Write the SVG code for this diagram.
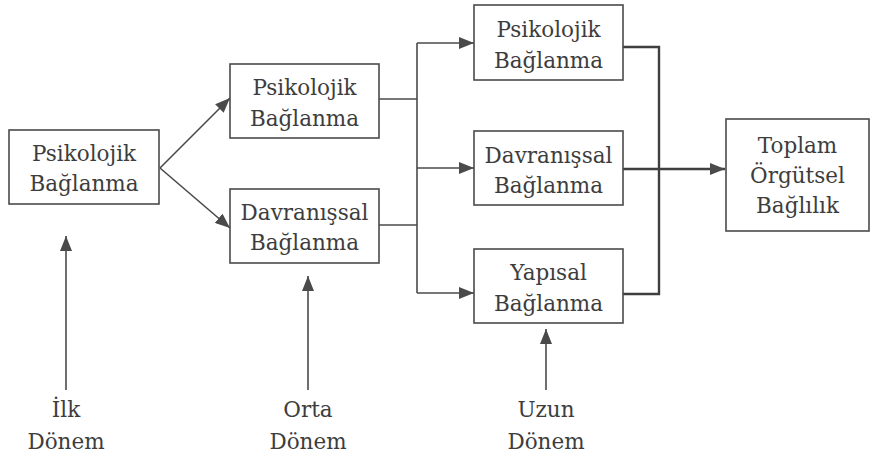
<svg xmlns="http://www.w3.org/2000/svg" width="873" height="459" viewBox="0 0 873 459">
<style>
.box{fill:#fff;stroke:#4a4a4a;stroke-width:1.6}
.t{font-size:21.5px;fill:#3d3d3d;text-anchor:middle}
.c{fill:none;stroke:#4a4a4a;stroke-width:1.6}
.c2{fill:none;stroke:#3f3f3f;stroke-width:2.4}
</style>
<defs>
<marker id="ah" markerUnits="userSpaceOnUse" markerWidth="16" markerHeight="12" refX="15" refY="6" orient="auto">
<path d="M0,0 L15,6 L0,12 Z" fill="#4a4a4a"/>
</marker>
</defs>
<rect width="873" height="459" fill="#fff"/>
<g id="connectors">
<line class="c" x1="160" y1="168" x2="230" y2="98" marker-end="url(#ah)"/>
<line class="c" x1="160" y1="168" x2="230" y2="228" marker-end="url(#ah)"/>
<polyline class="c" points="379,99 417,99"/>
<polyline class="c" points="379,225 417,225"/>
<polyline class="c" points="417,43 417,293"/>
<line class="c" x1="417" y1="43" x2="474" y2="43" marker-end="url(#ah)"/>
<line class="c" x1="417" y1="168" x2="474" y2="168" marker-end="url(#ah)"/>
<line class="c" x1="417" y1="293" x2="474" y2="293" marker-end="url(#ah)"/>
<polyline class="c2" points="623,47 659,47 659,294 623,294"/>
<line class="c2" x1="623" y1="169" x2="725" y2="169" marker-end="url(#ah)"/>
<line class="c" x1="66" y1="390" x2="66" y2="236" marker-end="url(#ah)"/>
<line class="c" x1="308" y1="390" x2="308" y2="276" marker-end="url(#ah)"/>
<line class="c" x1="546" y1="390" x2="546" y2="329" marker-end="url(#ah)"/>
</g>
<g font-family="DejaVu Serif, serif">
<g id="n-psik1">
<rect class="box" x="9" y="130" width="150" height="74"/>
<text class="t" x="84" y="161">Psikolojik</text>
<text class="t" x="84" y="191">Bağlanma</text>
</g>
<g id="n-psik2">
<rect class="box" x="230" y="64" width="149" height="74"/>
<text class="t" x="304.5" y="95">Psikolojik</text>
<text class="t" x="304.5" y="126">Bağlanma</text>
</g>
<g id="n-davr2">
<rect class="box" x="230" y="189" width="149" height="74"/>
<text class="t" x="304.5" y="220">Davranışsal</text>
<text class="t" x="304.5" y="250">Bağlanma</text>
</g>
<g id="n-psik3">
<rect class="box" x="474" y="5" width="149" height="75"/>
<text class="t" x="548.5" y="37">Psikolojik</text>
<text class="t" x="548.5" y="68">Bağlanma</text>
</g>
<g id="n-davr3">
<rect class="box" x="474" y="131" width="149" height="74"/>
<text class="t" x="548.5" y="163">Davranışsal</text>
<text class="t" x="548.5" y="193">Bağlanma</text>
</g>
<g id="n-yapi3">
<rect class="box" x="474" y="249" width="149" height="74"/>
<text class="t" x="548.5" y="280">Yapısal</text>
<text class="t" x="548.5" y="311">Bağlanma</text>
</g>
<g id="n-toplam">
<rect class="box" x="726" y="119" width="143" height="112"/>
<text class="t" x="797.5" y="153">Toplam</text>
<text class="t" x="797.5" y="183">Örgütsel</text>
<text class="t" x="797.5" y="213">Bağlılık</text>
</g>
<g id="n-ilk">
<text class="t" x="66" y="417">İlk</text>
<text class="t" x="66" y="449">Dönem</text>
</g>
<g id="n-orta">
<text class="t" x="308" y="417">Orta</text>
<text class="t" x="308" y="449">Dönem</text>
</g>
<g id="n-uzun">
<text class="t" x="546" y="417">Uzun</text>
<text class="t" x="546" y="449">Dönem</text>
</g>
</g>
</svg>
